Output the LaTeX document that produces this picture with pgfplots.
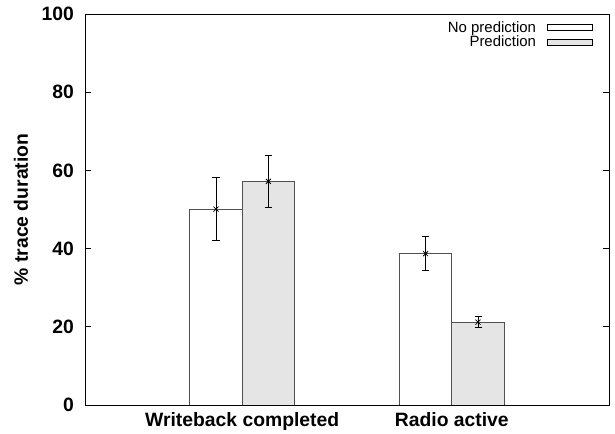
\documentclass[border=0pt]{standalone}
\usepackage{fontspec}
\setmainfont{Liberation Sans}
\usepackage{pgfplots}
\pgfplotsset{compat=1.18}
\definecolor{barfill}{RGB}{229,229,229}
\definecolor{barline}{RGB}{80,80,80}
\begin{document}
\begin{tikzpicture}
\begin{axis}[
  name=ax,
  scale only axis, width=524bp, height=391bp,
  xmin=-0.75, xmax=1.75, ymin=0, ymax=100,
  xtick={0,1}, xticklabels={Writeback completed, Radio active},
  x tick style={draw=none},
  ytick={0,20,40,60,80,100},
  ytick pos=both, tick align=inside,
  major tick length=6bp,
  y tick style={line width=0.8bp, black},
  axis line style={line width=0.8bp, black},
  /pgf/number format/assume math mode=true,
  ticklabel style={font=\fontsize{19.4}{19.4}\selectfont\bfseries},
  yticklabel style={anchor=east, inner sep=0pt, xshift=-11bp},
  xticklabel style={anchor=north, inner sep=0pt, yshift=-7bp},
  ylabel={\% trace duration},
  ylabel style={font=\fontsize{19.4}{19.4}\selectfont\bfseries, at={(axis description cs:-0.122,0.5)}, anchor=center},
  legend plot pos=right,
  legend cell align=right,
  legend style={draw=none, fill=none, at={(1,1)}, anchor=north east, xshift=-16bp, yshift=-6bp,
    inner sep=0pt, font=\fontsize{15}{15}\selectfont, row sep=0.5bp,
    nodes={inner sep=1bp},
    /tikz/every odd column/.append style={column sep=10bp}},
]
\addplot[ybar, bar width=52.4bp, bar shift=-26.2bp, fill=white, draw=barline, line width=0.8bp, forget plot]
  coordinates {(0,50.1) (1,38.7)};
\addplot[ybar, bar width=52.4bp, bar shift=26.2bp, fill=barfill, draw=barline, line width=0.8bp, forget plot]
  coordinates {(0,57.2) (1,21.2)};
\addplot[only marks, mark=x, mark size=3.5bp, black, line width=0.8bp, forget plot,
  error bars/.cd, y dir=both, y explicit,
  error bar style={line width=0.8bp, black},
  error mark options={rotate=90, mark size=3.5bp, line width=0.8bp, black}]
  coordinates {(-0.125,50.1) +- (0,8.1) (0.875,38.7) +- (0,4.4)
               (0.125,57.2) +- (0,6.6) (1.125,21.2) +- (0,1.45)};
\addlegendimage{legend image code/.code={\draw[fill=white, draw=black, line width=0.8bp] (0bp,-3bp) rectangle (45bp,3bp);}}
\addlegendentry{No prediction}
\addlegendimage{legend image code/.code={\draw[fill=barfill, draw=black, line width=0.8bp] (0bp,-3bp) rectangle (45bp,3bp);}}
\addlegendentry{Prediction}
\end{axis}
\pgfresetboundingbox
\path[use as bounding box] ([xshift=-85bp,yshift=-29bp]ax.south west) rectangle ([xshift=6bp,yshift=14bp]ax.north east);
\end{tikzpicture}
\end{document}
